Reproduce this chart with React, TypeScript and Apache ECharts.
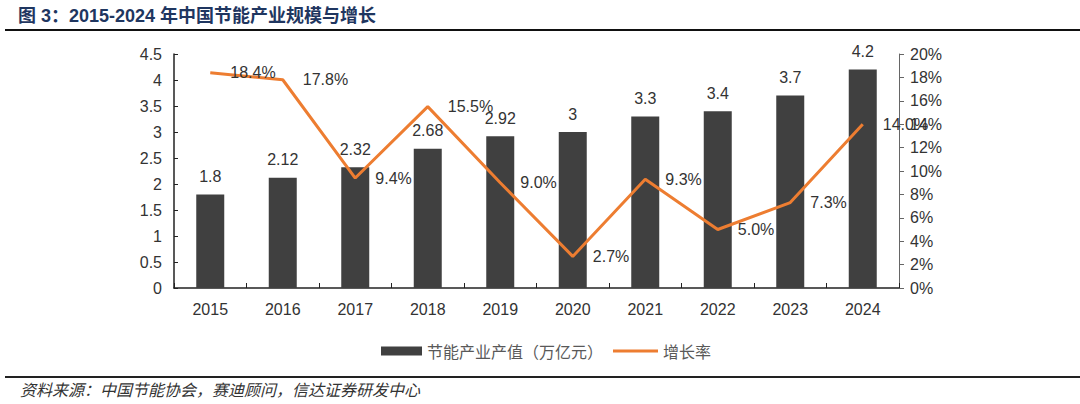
import React, { useEffect, useRef } from "react";
import * as echarts from "echarts";

const years = ["2015", "2016", "2017", "2018", "2019", "2020", "2021", "2022", "2023", "2024"];
const outputValue = [1.8, 2.12, 2.32, 2.68, 2.92, 3, 3.3, 3.4, 3.7, 4.2];
const growthRate = [18.4, 17.8, 9.4, 15.5, 9.0, 2.7, 9.3, 5.0, 7.3, 14.0];
const barName = "节能产业产值（万亿元）";
const lineName = "增长率";
const titleText = "图 3：2015-2024 年中国节能产业规模与增长";
const sourceText = "资料来源：中国节能协会，赛迪顾问，信达证券研发中心";

const NUM_FONT = "'Liberation Sans', Arial, sans-serif";
const CJK_FONT = "'Noto Sans CJK SC', sans-serif";

export default function App() {
  const ref = useRef<HTMLDivElement>(null);

  useEffect(() => {
    if (!ref.current) return;
    const chart = echarts.init(ref.current, undefined, { renderer: "svg" });
    chart.setOption({
      animation: false,
      backgroundColor: "#ffffff",
      grid: { left: 174, right: 181, top: 54, bottom: 116, containLabel: false },
      legend: [
        {
          data: [barName],
          left: 376,
          top: 338,
          itemWidth: 41,
          itemHeight: 9,
          icon: "rect",
          textStyle: { fontFamily: CJK_FONT, fontSize: 16, color: "#595959" },
        },
        {
          data: [lineName],
          left: 608,
          top: 338,
          itemWidth: 45,
          itemHeight: 3,
          icon: "rect",
          textStyle: { fontFamily: CJK_FONT, fontSize: 16, color: "#595959" },
        },
      ],
      xAxis: {
        type: "category",
        data: years,
        boundaryGap: true,
        axisLine: { show: true, lineStyle: { color: "#222", width: 1.5 } },
        axisTick: { show: true, inside: true, length: 5, alignWithLabel: false, lineStyle: { color: "#222" } },
        axisLabel: { fontFamily: NUM_FONT, fontSize: 16, color: "#333", margin: 13 },
      },
      yAxis: [
        {
          type: "value",
          min: 0,
          max: 4.5,
          interval: 0.5,
          splitLine: { show: false },
          axisLine: { show: true, lineStyle: { color: "#222", width: 1.5 } },
          axisTick: { show: true, inside: true, length: 4, lineStyle: { color: "#222" } },
          axisLabel: { fontFamily: NUM_FONT, fontSize: 16, color: "#333", margin: 12 },
        },
        {
          type: "value",
          min: 0,
          max: 20,
          interval: 2,
          position: "right",
          splitLine: { show: false },
          axisLine: { show: true, lineStyle: { color: "#666", width: 1 } },
          axisTick: { show: true, inside: false, length: 5, lineStyle: { color: "#666" } },
          axisLabel: { fontFamily: NUM_FONT, fontSize: 16, color: "#333", margin: 11, formatter: "{value}%" },
        },
      ],
      series: [
        {
          name: barName,
          type: "bar",
          data: outputValue,
          barWidth: 28,
          itemStyle: { color: "#404040" },
          label: {
            show: true,
            position: "top",
            distance: 10,
            fontFamily: NUM_FONT,
            fontSize: 16,
            color: "#333",
          },
          z: 2,
        },
        {
          name: lineName,
          type: "line",
          yAxisIndex: 1,
          data: growthRate,
          symbol: "circle",
          symbolSize: 0.1,
          showSymbol: true,
          lineStyle: { color: "#ED7D31", width: 3 },
          itemStyle: { color: "#ED7D31" },
          label: {
            show: true,
            position: "right",
            distance: 20,
            fontFamily: NUM_FONT,
            fontSize: 16,
            color: "#333",
            formatter: (p: any) => Number(p.value).toFixed(1) + "%",
          },
          z: 3,
        },
      ],
      graphic: [
        {
          type: "text",
          style: {
            x: 18,
            y: 16,
            text: titleText,
            fontFamily: "'Liberation Sans', 'Noto Sans CJK SC', sans-serif",
            fontWeight: "bold",
            fontSize: 18,
            fill: "#1f3660",
            verticalAlign: "middle",
          },
        },
        {
          type: "line",
          shape: { x1: 5, y1: 30, x2: 1080, y2: 30 },
          style: { stroke: "#111", lineWidth: 2 },
        },
        {
          type: "line",
          shape: { x1: 5, y1: 377, x2: 1080, y2: 377 },
          style: { stroke: "#222", lineWidth: 2 },
        },
        {
          type: "text",
          style: {
            x: 20,
            y: 389,
            text: sourceText,
            fontFamily: CJK_FONT,
            fontStyle: "italic",
            fontSize: 16,
            fill: "#333",
            verticalAlign: "middle",
          },
        },
      ],
    });
    return () => chart.dispose();
  }, []);

  return (
    <div
      ref={ref}
      style={{ position: "fixed", left: 0, top: 0, width: 1080, height: 404, background: "#fff" }}
    />
  );
}
